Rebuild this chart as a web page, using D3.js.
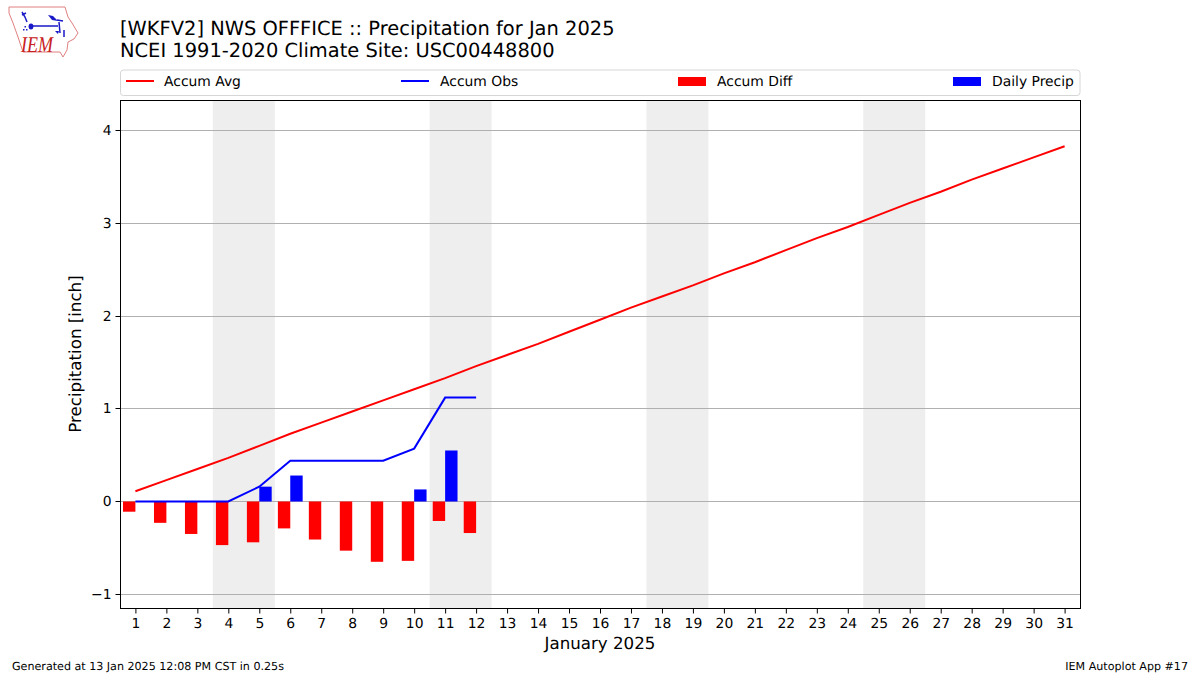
<!DOCTYPE html>
<html><head><meta charset="utf-8">
<script src="https://cdn.jsdelivr.net/npm/d3@7/dist/d3.min.js"></script>
<style>html,body{margin:0;padding:0;background:#fff}svg{display:block}text{font-family:"DejaVu Sans";fill:#000;text-rendering:geometricPrecision}</style>
</head><body><svg id="c" width="1200" height="675"></svg>
<script>
const days = d3.range(1, 32);
const accumAvg = [0.11,0.23,0.35,0.47,0.60,0.73,0.85,0.97,1.09,1.21,1.33,1.46,1.58,1.70,1.83,1.96,2.09,2.21,2.33,2.46,2.58,2.71,2.84,2.96,3.09,3.22,3.34,3.47,3.59,3.71,3.83];
const accumObs = [0,0,0,0,0.16,0.44,0.44,0.44,0.44,0.57,1.12,1.12];
const accumDiff = [-0.11,-0.23,-0.35,-0.47,-0.44,-0.29,-0.41,-0.53,-0.65,-0.64,-0.21,-0.34];
const dailyPrecipDays = [5,6,10,11];
const dailyPrecip = [0.16,0.28,0.13,0.55];
const weekendStarts = [4,11,18,25];
const yTicks = [-1,0,1,2,3,4];
const titleLines = ["[WKFV2] NWS OFFFICE :: Precipitation for Jan 2025","NCEI 1991-2020 Climate Site: USC00448800"];
const legendItems = [["Accum Avg","line","#f00"],["Accum Obs","line","#00f"],["Accum Diff","bar","#f00"],["Daily Precip","bar","#00f"]];

const svg = d3.select("#c");
const L=120.5,R=1080.5,T=100,B=608;
const x = d3.scaleLinear().domain([1,31]).range([135.4,1064.6]);
const y = d3.scaleLinear().domain([0,4]).range([501.5,130.5]);
const crisp = v => Math.floor(v)+.5;

svg.append("g").selectAll("rect").data(weekendStarts).join("rect")
 .attr("x",d=>x(d-0.5)).attr("width",d=>x(d+1.5)-x(d-0.5)).attr("y",T).attr("height",B-T).attr("fill","#eee");

svg.append("g").selectAll("line").data(yTicks).join("line")
 .attr("x1",L).attr("x2",R).attr("y1",d=>crisp(y(d))).attr("y2",d=>crisp(y(d)))
 .attr("stroke","#b0b0b0").attr("stroke-width",1);

const bw = x(1.4)-x(1);
svg.append("g").selectAll("rect").data(accumDiff).join("rect")
 .attr("x",(d,i)=>x(days[i])-bw).attr("width",bw)
 .attr("y",y(0)).attr("height",d=>y(d)-y(0)).attr("fill","#f00");
svg.append("g").selectAll("rect").data(dailyPrecip).join("rect")
 .attr("x",(d,i)=>x(dailyPrecipDays[i])).attr("width",bw)
 .attr("y",d=>y(d)).attr("height",d=>y(0)-y(d)).attr("fill","#00f");

const line = d3.line().x((d,i)=>x(days[i])).y(d=>y(d));
svg.append("path").attr("d",line(accumAvg)).attr("fill","none").attr("stroke","#f00").attr("stroke-width",2);
svg.append("path").attr("d",line(accumObs)).attr("fill","none").attr("stroke","#00f").attr("stroke-width",2);

svg.append("rect").attr("x",L).attr("y",T+.5).attr("width",R-L).attr("height",B-T).attr("fill","none").attr("stroke","#000").attr("stroke-width",1);

const yAxis = svg.append("g").attr("transform",`translate(${L},0)`)
 .call(d3.axisLeft(y).offset(0).tickValues(yTicks).tickSize(5).tickPadding(4).tickFormat(d=>d<0?"\u2212"+(-d):d));
yAxis.selectAll(".tick").attr("transform",d=>`translate(0,${crisp(y(d))})`);
const xAxis = svg.append("g").attr("transform",`translate(0,${B+.5})`)
 .call(d3.axisBottom(x).tickValues(days).tickSize(5).tickPadding(5).tickFormat(d3.format("d")));
[xAxis,yAxis].forEach(a=>{a.select(".domain").remove();
 a.selectAll("text").attr("font-size",13.89).attr("font-family","DejaVu Sans");
 a.selectAll("line").attr("stroke","#000");});

svg.append("text").attr("x",600).attr("y",649).attr("text-anchor","middle").attr("font-size",16.67).text("January 2025");
svg.append("text").attr("transform","translate(81,354) rotate(-90)").attr("text-anchor","middle").attr("font-size",16.67).text("Precipitation [inch]");

svg.append("g").selectAll("text").data(titleLines).join("text")
 .attr("x",120).attr("y",(d,i)=>35+i*22).attr("font-size",19.44).text(d=>d);

svg.append("rect").attr("x",120.5).attr("y",70).attr("width",959.5).attr("height",25.5).attr("rx",3)
 .attr("fill","#fff").attr("stroke","#d6d6d6");
const legX = [126,401,678,953], legTextX=[164,440,717,992];
const lg = svg.append("g").selectAll("g").data(legendItems).join("g");
lg.each(function(d,i){
 const g=d3.select(this);
 if(d[1]==="line") g.append("line").attr("x1",legX[i]).attr("x2",legX[i]+28).attr("y1",81).attr("y2",81).attr("stroke",d[2]).attr("stroke-width",2);
 else g.append("rect").attr("x",legX[i]).attr("y",77).attr("width",28).attr("height",9).attr("fill",d[2]);
 g.append("text").attr("x",legTextX[i]).attr("y",86).attr("font-size",13.89).text(d[0]);
});

svg.append("text").attr("x",12).attr("y",670).attr("font-size",11.11).text("Generated at 13 Jan 2025 12:08 PM CST in 0.25s");
svg.append("text").attr("x",1188).attr("y",670).attr("text-anchor","end").attr("font-size",11.11).text("IEM Autoplot App #17");

// logo
const logo = svg.append("g");
logo.append("path").attr("d","M9 7 L65 7 L68 17 L72 23 L78 33 L74 39 L68 42 L67 50 L63 57 L60 52 L23 52 L18 37 L13 23 L9 13 Z")
 .attr("fill","#fff").attr("stroke","#e08080").attr("stroke-width",1);
logo.append("path").attr("d","M31 26 L58 26 M59 22 L60 33 M57 20 L63 21 M22 12 L25 17 L27 22 M22 15 L26 13 M64 30 L64 37")
 .attr("fill","none").attr("stroke","#1a1ac8").attr("stroke-width",1.5);
logo.append("path").attr("d","M48 15 L53 16 L58 21 L52 20 Z M55 31 L59 31 L58 34 Z").attr("fill","#1a1ac8");
logo.append("ellipse").attr("cx",31).attr("cy",26.5).attr("rx",2.4).attr("ry",3).attr("fill","#1a1ac8");
logo.append("path").attr("d","M23 29 h1.5 v1.5 h-1.5 Z M26 29 h1.5 v1.5 h-1.5 Z M24.5 26 h1.5 v1.5 h-1.5 Z").attr("fill","#1a1ac8");
logo.append("text").attr("transform","translate(21,52) scale(1,1.25)").style("font-family","Liberation Serif").attr("font-style","italic").attr("font-size",18).style("fill","#c82020").text("IEM");
</script></body></html>
